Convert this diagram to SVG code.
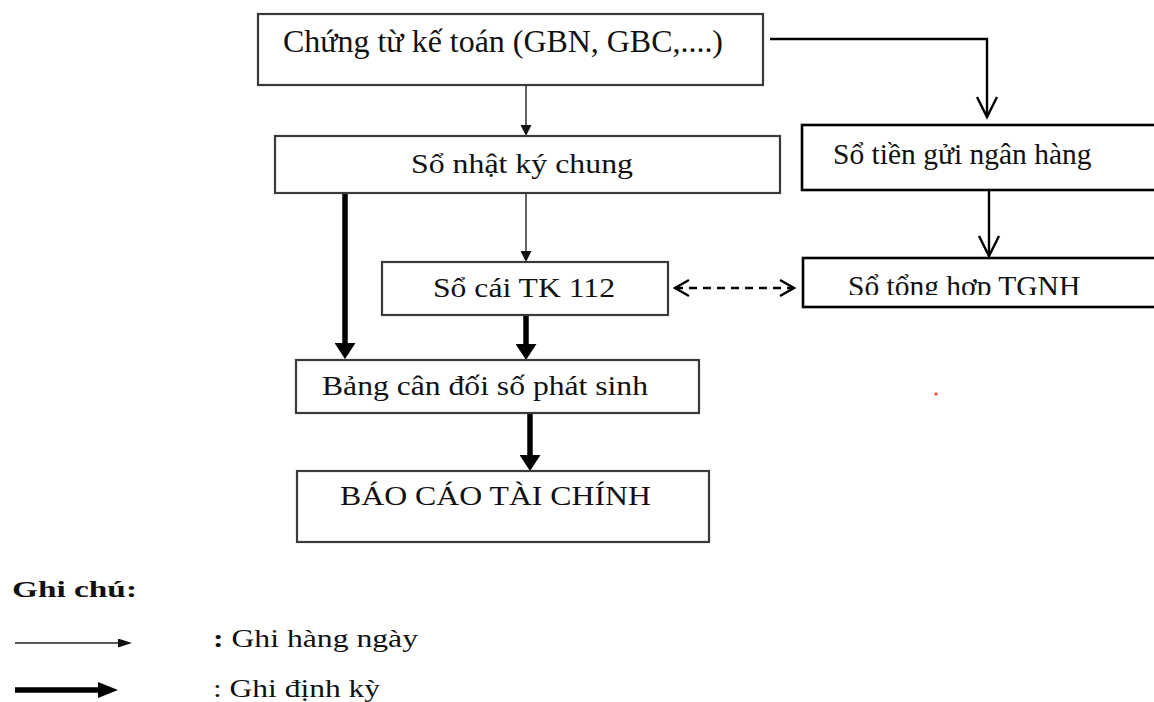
<svg xmlns="http://www.w3.org/2000/svg" width="1154" height="702" viewBox="0 0 1154 702">
<style>
  .box { fill: #fff; stroke: #3a3a3a; stroke-width: 2.2; }
  .boxR { fill: #fff; stroke: #000; stroke-width: 2.6; }
  .t { font-family: "Liberation Serif", "Times New Roman", serif; fill: #111; }
  .thin { stroke: #222; stroke-width: 1.4; fill: none; }
  .thick { stroke: #000; stroke-width: 5.5; fill: none; }
  .openl { stroke: #000; stroke-width: 2.4; fill: none; }
  .dash { stroke: #000; stroke-width: 2.4; fill: none; stroke-dasharray: 8 6; }
</style>
<defs>
  <marker id="mThin" viewBox="0 0 11 11" refX="0" refY="5.5" markerWidth="11" markerHeight="11" markerUnits="userSpaceOnUse" orient="auto">
    <path d="M0,0 L11,5.5 L0,11 z" fill="#111"/>
  </marker>
  <marker id="mThick" viewBox="0 0 16 21" refX="0" refY="10.5" markerWidth="16" markerHeight="21" markerUnits="userSpaceOnUse" orient="auto">
    <path d="M0,0 L16,10.5 L0,21 z" fill="#000"/>
  </marker>
  <marker id="mOpen" viewBox="0 0 20 20" refX="20" refY="10" markerWidth="20" markerHeight="20" markerUnits="userSpaceOnUse" orient="auto" overflow="visible">
    <path d="M0,0 L20,10 L0,20" fill="none" stroke="#000" stroke-width="2.4"/>
  </marker>
  <marker id="mOpenS" viewBox="0 0 14 16" refX="14" refY="8" markerWidth="14" markerHeight="16" markerUnits="userSpaceOnUse" orient="auto-start-reverse" overflow="visible">
    <path d="M0,0 L14,8 L0,16" fill="none" stroke="#000" stroke-width="2.4"/>
  </marker>
  <marker id="mLegThin" viewBox="0 0 14 9" refX="0" refY="4.5" markerWidth="14" markerHeight="9" markerUnits="userSpaceOnUse" orient="auto">
    <path d="M0,0 L14,4.5 L0,9 z" fill="#111"/>
  </marker>
  <marker id="mLegThick" viewBox="0 0 20 16" refX="0" refY="8" markerWidth="20" markerHeight="16" markerUnits="userSpaceOnUse" orient="auto">
    <path d="M0,0 L20,8 L0,16 z" fill="#000"/>
  </marker>
  <clipPath id="clipTH">
    <rect x="803" y="258" width="360" height="37"/>
  </clipPath>
</defs>

<g id="connectors">
  <line class="thin" x1="526" y1="85" x2="526" y2="125" marker-end="url(#mThin)"/>
  <polyline class="openl" points="770,39 987,39 987,117" marker-end="url(#mOpen)"/>
  <line class="openl" x1="989" y1="183" x2="989" y2="256" marker-end="url(#mOpen)"/>
  <line class="thin" x1="526" y1="193" x2="526" y2="251" marker-end="url(#mThin)"/>
  <line class="thick" x1="345" y1="193" x2="345" y2="343" marker-end="url(#mThick)"/>
  <line class="thick" x1="526" y1="315" x2="526" y2="344" marker-end="url(#mThick)"/>
  <line class="thick" x1="530" y1="413" x2="530" y2="455" marker-end="url(#mThick)"/>
  <line class="dash" x1="675" y1="288" x2="794" y2="288" marker-start="url(#mOpenS)" marker-end="url(#mOpenS)"/>
</g>

<g id="node-chung-tu">
  <rect class="box" x="258" y="14" width="505" height="71"/>
  <text class="t" x="283" y="52" font-size="32" textLength="440" lengthAdjust="spacingAndGlyphs">Chứng từ kế toán (GBN, GBC,....)</text>
</g>
<g id="node-nhat-ky">
  <rect class="box" x="275" y="136" width="505" height="57"/>
  <text class="t" x="411" y="173" font-size="28" textLength="222" lengthAdjust="spacingAndGlyphs">Sổ nhật ký chung</text>
</g>
<g id="node-tien-gui">
  <rect class="boxR" x="802" y="125" width="360" height="65"/>
  <text class="t" x="833" y="164" font-size="29.5" fill="#000">Sổ tiền gửi ngân hàng</text>
</g>
<g id="node-tong-hop">
  <rect class="boxR" x="803" y="258" width="360" height="49"/>
  <text class="t" x="848" y="296" font-size="29.5" clip-path="url(#clipTH)">Sổ tổng hợp TGNH</text>
</g>
<g id="node-so-cai">
  <rect class="box" x="382" y="262" width="286" height="53"/>
  <text class="t" x="433" y="297" font-size="27" textLength="182" lengthAdjust="spacingAndGlyphs">Sổ cái TK 112</text>
</g>
<g id="node-bang-can-doi">
  <rect class="box" x="296" y="360" width="403" height="53"/>
  <text class="t" x="322" y="395" font-size="27" textLength="326" lengthAdjust="spacingAndGlyphs">Bảng cân đối số phát sinh</text>
</g>
<g id="node-bao-cao">
  <rect class="box" x="297" y="471" width="412" height="71"/>
  <text class="t" x="340" y="505" font-size="27" textLength="311" lengthAdjust="spacingAndGlyphs">BÁO CÁO TÀI CHÍNH</text>
</g>

<circle cx="936" cy="394" r="1.6" fill="#f33"/>

<g id="legend">
  <text class="t" x="12" y="597" font-size="24" font-weight="bold" textLength="125" lengthAdjust="spacingAndGlyphs">Ghi  chú:</text>
  <line class="thin" x1="15" y1="643" x2="118" y2="643" marker-end="url(#mLegThin)"/>
  <text class="t" x="213" y="647" font-size="25" textLength="205" lengthAdjust="spacingAndGlyphs"><tspan font-weight="bold">:</tspan> Ghi hàng ngày</text>
  <line class="thick" x1="15" y1="690" x2="98" y2="690" stroke-width="6" marker-end="url(#mLegThick)"/>
  <text class="t" x="213" y="697" font-size="25" textLength="167" lengthAdjust="spacingAndGlyphs">: Ghi định kỳ</text>
</g>
</svg>
